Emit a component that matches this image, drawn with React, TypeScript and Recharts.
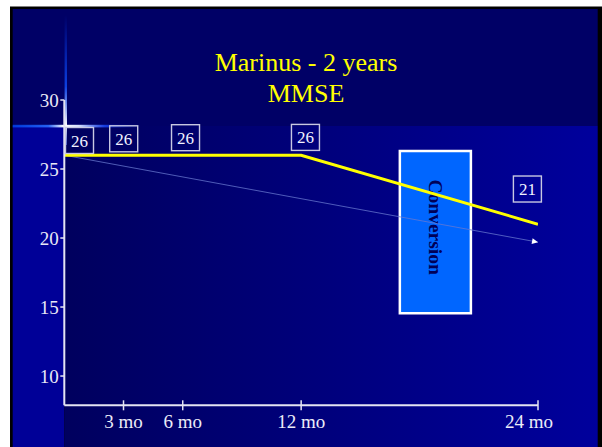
import { LineChart, Line, XAxis, YAxis, ReferenceArea } from "recharts";

// MMSE follow-up, Marinus cohort
const months = [0, 3, 6, 12, 24];
const mmse = [26, 26, 26, 26, 21];
const trendMonths = [0, 24];
const trendMmse = [26, 19.7];
const monthTicks = [3, 6, 12, 24];
const scoreTicks = [10, 15, 20, 25, 30];
const conversionMonths = [17, 20.6];
const conversionScores = [14.55, 26.3];

const mmseRows = months.map((m, i) => ({ month: m, mmse: mmse[i] }));
const trendRows = trendMonths.map((m, i) => ({ month: m, trend: trendMmse[i] }));

const W = 602;
const H = 447;
const SERIF = '"Liberation Serif", "Times New Roman", serif';
const AXIS = "#e4e4f2";

// hand placed offsets of the value boxes from their points
const boxDx = [15.2, 0.2, 2.8, 4.3, -10.6];
const boxDy = [-14.7, -16.4, -17.5, -17.8, -35.2];
const tickDx: Record<number, number> = { 24: -9 };
const ARROW_ANGLE = 10.4;

function ValueBox(props: any) {
  const { x, y, index, value } = props;
  const cx = x + boxDx[index];
  const cy = y + boxDy[index];
  return (
    <g>
      <rect x={cx - 14} y={cy - 13} width={28} height={26} fill="none" stroke="#c8c8e2" strokeWidth={1.4} />
      <text x={cx} y={cy + 6} textAnchor="middle" fontFamily={SERIF} fontSize={17} fill="#f2f2ff">
        {value}
      </text>
    </g>
  );
}

function MonthTick(props: any) {
  const { x, y, payload } = props;
  const dx = tickDx[payload.value] ?? 0;
  return (
    <g>
      <line x1={x} x2={x} y1={y - 5} y2={y + 5} stroke={AXIS} strokeWidth={1.5} />
      <text x={x + dx} y={y + 23} textAnchor="middle" fontFamily={SERIF} fontSize={19} fill="#ececf8">
        {`${payload.value} mo`}
      </text>
    </g>
  );
}

function ConversionLabel(props: any) {
  const { viewBox } = props;
  if (!viewBox) return null;
  const cx = viewBox.x + viewBox.width / 2;
  const cy = viewBox.y + viewBox.height / 2 - 5;
  return (
    <text
      x={cx}
      y={cy}
      transform={`rotate(90 ${cx} ${cy})`}
      textAnchor="middle"
      dominantBaseline="central"
      fontFamily={SERIF}
      fontWeight="bold"
      fontSize={19.5}
      fill="#000058"
    >
      Conversion
    </text>
  );
}

function ArrowDot(props: any) {
  const { cx, cy, index } = props;
  if (index !== trendRows.length - 1) return <g key={`d-${index}`} />;
  return (
    <polygon
      key={`d-${index}`}
      points="0,0 -6,-3 -6,3"
      fill="#ffffff"
      transform={`translate(${cx} ${cy}) rotate(${ARROW_ANGLE})`}
    />
  );
}

function Backdrop() {
  return (
    <svg width={W} height={H} style={{ position: "absolute", left: 0, top: 0 }}>
      <defs>
        <linearGradient id="plotShade" x1="0" x2="1" y1="0" y2="0">
          <stop offset="0%" stopColor="#00005e" />
          <stop offset="100%" stopColor="#00009c" />
        </linearGradient>
        <linearGradient id="flareH" x1="0" x2="1" y1="0" y2="0">
          <stop offset="0%" stopColor="#0050ff" stopOpacity={0.7} />
          <stop offset="28%" stopColor="#2a6cff" stopOpacity={0.9} />
          <stop offset="40%" stopColor="#ffffff" />
          <stop offset="52%" stopColor="#d8e2ff" />
          <stop offset="72%" stopColor="#1c4cff" stopOpacity={0.8} />
          <stop offset="100%" stopColor="#0030ff" stopOpacity={0} />
        </linearGradient>
        <linearGradient id="flareV" x1="0" x2="0" y1="0" y2="1">
          <stop offset="0%" stopColor="#0040ff" stopOpacity={0} />
          <stop offset="55%" stopColor="#1050ff" stopOpacity={0.8} />
          <stop offset="85%" stopColor="#ffffff" />
          <stop offset="100%" stopColor="#6080ff" stopOpacity={0.6} />
        </linearGradient>
      </defs>
      <rect x={0} y={0} width={W} height={H} fill="#ffffff" />
      <rect x={10} y={6.5} width={592} height={441} fill="#000000" />
      <rect x={12.7} y={9} width={585} height={117} fill="#000066" />
      <rect x={12.7} y={126} width={51.6} height={321} fill="#000097" />
      <rect x={64.3} y={126} width={533.4} height={321} fill="url(#plotShade)" />
      <rect x={12.7} y={124.8} width={127.3} height={2.6} fill="url(#flareH)" />
      <rect x={64.6} y={15} width={2.4} height={130} fill="url(#flareV)" />
      <text x={306} y={71} textAnchor="middle" fontFamily={SERIF} fontSize={26} fill="#ffff00">
        Marinus - 2 years
      </text>
      <text x={306} y={101.5} textAnchor="middle" fontFamily={SERIF} fontSize={26} fill="#ffff00">
        MMSE
      </text>
    </svg>
  );
}

export default function App() {
  return (
    <div style={{ position: "absolute", left: 0, top: 0, width: W, height: H }}>
      <Backdrop />
      <LineChart
        width={W}
        height={H}
        margin={{ top: 100, right: 64, bottom: 0, left: 0 }}
        style={{ position: "absolute", left: 0, top: 0 }}
      >
        <XAxis
          type="number"
          dataKey="month"
          domain={[0, 24]}
          ticks={monthTicks}
          height={41.7}
          tickLine={false}
          tickSize={0}
          tickMargin={0}
          axisLine={{ stroke: AXIS, strokeWidth: 2 }}
          tick={<MonthTick />}
          allowDataOverflow
        />
        <YAxis
          type="number"
          domain={[7.88, 30]}
          ticks={scoreTicks}
          width={64.3}
          tickSize={4}
          tickMargin={1.5}
          axisLine={{ stroke: AXIS, strokeWidth: 2 }}
          tickLine={{ stroke: AXIS, strokeWidth: 1.5 }}
          tick={{ fill: "#e8e8f6", fontSize: 19, fontFamily: SERIF }}
          allowDataOverflow
        />
        <ReferenceArea
          x1={conversionMonths[0]}
          x2={conversionMonths[1]}
          y1={conversionScores[0]}
          y2={conversionScores[1]}
          fill="#0066ff"
          fillOpacity={1}
          stroke="#ffffff"
          strokeWidth={2.5}
          label={<ConversionLabel />}
        />
        <Line
          data={trendRows}
          dataKey="trend"
          type="linear"
          stroke="#6a7ad0"
          strokeOpacity={0.75}
          strokeWidth={1}
          dot={ArrowDot}
          activeDot={false}
          isAnimationActive={false}
        />
        <Line
          data={mmseRows}
          dataKey="mmse"
          type="linear"
          stroke="#ffff00"
          strokeWidth={3}
          dot={false}
          activeDot={false}
          label={ValueBox}
          isAnimationActive={false}
        />
      </LineChart>
    </div>
  );
}
